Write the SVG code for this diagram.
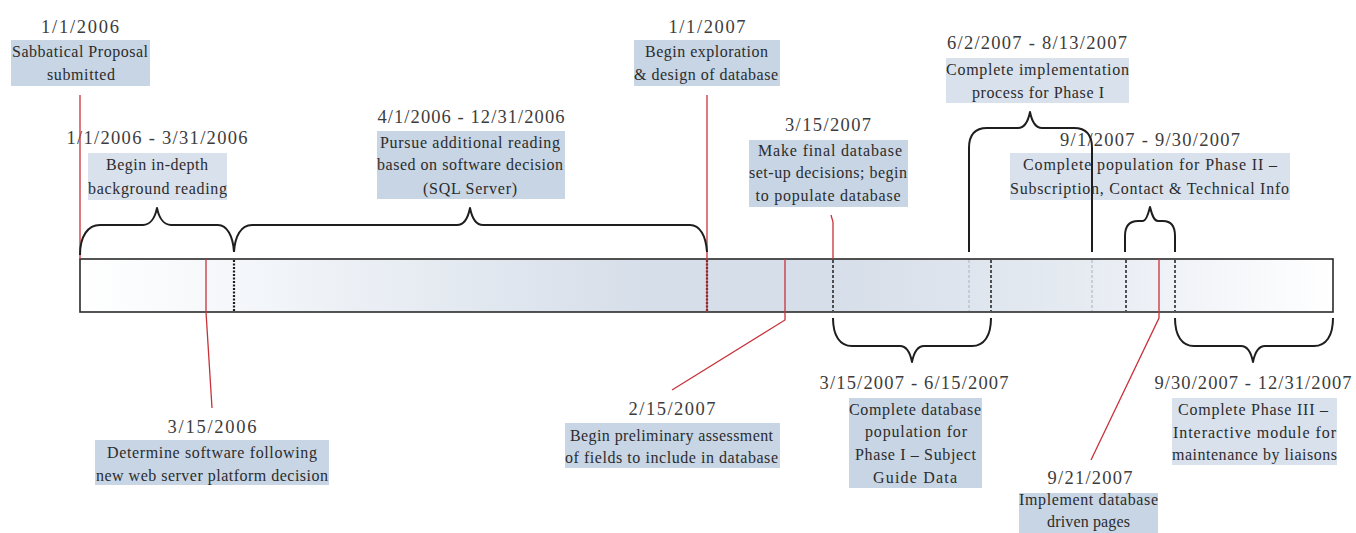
<svg xmlns="http://www.w3.org/2000/svg" width="1356" height="533" viewBox="0 0 1356 533">
<defs>
<linearGradient id="barGrad" x1="80" y1="0" x2="1333" y2="0" gradientUnits="userSpaceOnUse">
<stop offset="0" stop-color="#ffffff"/>
<stop offset="0.15" stop-color="#f2f5f9"/>
<stop offset="0.45" stop-color="#d6dee9"/>
<stop offset="0.6" stop-color="#d6dee9"/>
<stop offset="0.8" stop-color="#e6ebf2"/>
<stop offset="0.9" stop-color="#f3f5f9"/>
<stop offset="1" stop-color="#ffffff"/>
</linearGradient>
</defs>
<style>
text{font-family:"Liberation Serif","Times New Roman",serif;text-anchor:middle;}
.d{font-size:18.5px;fill:#3c3c3c;}
.b{font-size:16px;fill:#2c2c2c;}
.box{fill:#c7d5e5;}
.boxl{fill:#d8e1ec;}
.brace{fill:none;stroke:#1e1e1e;stroke-width:2;stroke-linejoin:round;}
.red{fill:none;stroke:#c8323a;stroke-width:1.3;}
.dash{stroke:#1e1e1e;stroke-width:1.5;stroke-dasharray:3,2;}
.dot{stroke:#1e1e1e;stroke-width:2.2;stroke-dasharray:2,1.5;}
.gdash{stroke:#b8bec8;stroke-width:1.3;stroke-dasharray:3,2;}
</style>
<rect width="1356" height="533" fill="#ffffff"/>

<g id="timeline-bar">
<rect x="80" y="259" width="1253" height="53" fill="url(#barGrad)" stroke="#2a2a2a" stroke-width="1.6"/>
<line class="dot" x1="234" y1="260" x2="234" y2="311"/>
<line class="dot" x1="707" y1="260" x2="707" y2="311"/>
<line class="dash" x1="833" y1="260" x2="833" y2="311"/>
<line class="gdash" x1="969" y1="260" x2="969" y2="311"/>
<line class="dash" x1="991" y1="260" x2="991" y2="311"/>
<line class="gdash" x1="1092" y1="260" x2="1092" y2="311"/>
<line class="dash" x1="1126" y1="260" x2="1126" y2="311"/>
<line class="dash" x1="1175" y1="260" x2="1175" y2="311"/>
</g>

<g id="n-2006-01-01">
<text class="d" x="80" y="33" textLength="78">1/1/2006</text>
<rect class="box" x="11" y="40" width="139" height="46"/>
<text class="b" x="80" y="57" textLength="136">Sabbatical Proposal</text>
<text class="b" x="81" y="80" textLength="68">submitted</text>
</g>

<g id="n-2006-q1">
<text class="d" x="157" y="144" textLength="181">1/1/2006 - 3/31/2006</text>
<rect class="boxl" x="88" y="153" width="139" height="47"/>
<text class="b" x="157" y="170" textLength="102">Begin in-depth</text>
<text class="b" x="157.5" y="194" textLength="139">background reading</text>
</g>

<g id="n-2006-apr-dec">
<text class="d" x="471" y="123" textLength="187">4/1/2006 - 12/31/2006</text>
<rect class="box" x="377" y="131" width="188" height="68"/>
<text class="b" x="470" y="148" textLength="180">Pursue additional reading</text>
<text class="b" x="470" y="170" textLength="186">based on software decision</text>
<text class="b" x="470" y="194" textLength="94">(SQL Server)</text>
</g>

<g id="n-2007-01-01">
<text class="d" x="707" y="33" textLength="77">1/1/2007</text>
<rect class="box" x="634" y="40" width="146" height="46"/>
<text class="b" x="706.5" y="57" textLength="123">Begin exploration</text>
<text class="b" x="706" y="80" textLength="144">&amp; design of database</text>
</g>

<g id="n-2007-03-15">
<text class="d" x="828" y="131" textLength="86">3/15/2007</text>
<rect class="box" x="749" y="140" width="159" height="67"/>
<text class="b" x="830" y="156" textLength="144">Make final database</text>
<text class="b" x="828" y="178" textLength="158">set-up decisions; begin</text>
<text class="b" x="828" y="201" textLength="145">to populate database</text>
</g>

<g id="n-2007-phase1-impl">
<text class="d" x="1037" y="49" textLength="180">6/2/2007 - 8/13/2007</text>
<rect class="boxl" x="946" y="58" width="183" height="45"/>
<text class="b" x="1037.5" y="75" textLength="183">Complete implementation</text>
<text class="b" x="1038" y="98" textLength="132">process for Phase I</text>
</g>

<g id="n-2007-phase2">
<text class="d" x="1150" y="146" textLength="180">9/1/2007 - 9/30/2007</text>
<rect class="boxl" x="1010" y="153" width="280" height="47"/>
<text class="b" x="1150" y="170" textLength="254">Complete population for Phase II –</text>
<text class="b" x="1149.5" y="194" textLength="279">Subscription, Contact &amp; Technical Info</text>
</g>

<g id="n-2006-03-15">
<text class="d" x="212" y="433" textLength="89">3/15/2006</text>
<rect class="box" x="95" y="440" width="234" height="45"/>
<text class="b" x="212" y="458" textLength="210">Determine software following</text>
<text class="b" x="212" y="481" textLength="232">new web server platform decision</text>
</g>

<g id="n-2007-02-15">
<text class="d" x="672" y="415" textLength="87">2/15/2007</text>
<rect class="box" x="565" y="423" width="215" height="45"/>
<text class="b" x="671.5" y="441" textLength="203">Begin preliminary assessment</text>
<text class="b" x="671.5" y="463" textLength="213">of fields to include in database</text>
</g>

<g id="n-2007-phase1-pop">
<text class="d" x="914" y="389" textLength="189">3/15/2007 - 6/15/2007</text>
<rect class="box" x="849" y="398" width="133" height="90"/>
<text class="b" x="915" y="415" textLength="132">Complete database</text>
<text class="b" x="916" y="437" textLength="102">population for</text>
<text class="b" x="915.5" y="460" textLength="121">Phase I – Subject</text>
<text class="b" x="915" y="483" textLength="84">Guide Data</text>
</g>

<g id="n-2007-09-21">
<text class="d" x="1090" y="484" textLength="85">9/21/2007</text>
<rect class="box" x="1019" y="493" width="139" height="45"/>
<text class="b" x="1088.5" y="505" textLength="139">Implement database</text>
<text class="b" x="1088.5" y="527" textLength="83">driven pages</text>
</g>

<g id="n-2007-phase3">
<text class="d" x="1253" y="389" textLength="197">9/30/2007 - 12/31/2007</text>
<rect class="boxl" x="1172" y="398" width="165" height="67"/>
<text class="b" x="1253" y="415" textLength="150">Complete Phase III –</text>
<text class="b" x="1254.5" y="438" textLength="163">Interactive module for</text>
<text class="b" x="1254.5" y="460" textLength="165">maintenance by liaisons</text>
</g>

<g id="connectors">
<path class="red" d="M80,95 L80,259"/>
<path class="red" d="M206,259 L206,312 L212,408"/>
<path class="red" d="M707,95 L707,312"/>
<path class="red" d="M785,259 L785,320 L672,390"/>
<path class="red" d="M831,215 L833,222 L833,259"/>
<path class="red" d="M1159,259 L1159,318 L1091,460"/>
<path class="brace" d="M80,255 C80,236 88,225 100,225 L143,225 C150,225 155,218 157,208 C159,218 164,225 171,225 L218,225 C227,225 233,236 234,252"/>
<path class="brace" d="M234,252 C235,236 241,225 252,225 L457,225 C464,225 468,218 470,208 C472,218 476,225 483,225 L690,225 C700,225 706,236 707,252"/>
<path class="brace" d="M969,252 L969,148 C969,135 975,128 987,128 L1018,128 C1024,128 1028,122 1030,112 C1032,122 1036,128 1042,128 L1074,128 C1086,128 1092,135 1092,148 L1092,252"/>
<path class="brace" d="M1125,252 L1125,236 C1125,226 1130,221 1138,221 L1143,221 C1146,221 1148,215 1150,207 C1152,215 1154,221 1158,221 L1163,221 C1171,221 1175,226 1175,236 L1175,252"/>
<path class="brace" d="M833,318 C833,336 840,346 852,346 L900,346 C906,346 910,352 912,362 C914,352 918,346 924,346 L972,346 C984,346 991,336 991,318"/>
<path class="brace" d="M1175,318 C1175,336 1182,346 1194,346 L1241,346 C1247,346 1251,352 1253,362 C1255,352 1259,346 1265,346 L1314,346 C1326,346 1333,336 1333,318"/>
</g>
</svg>
